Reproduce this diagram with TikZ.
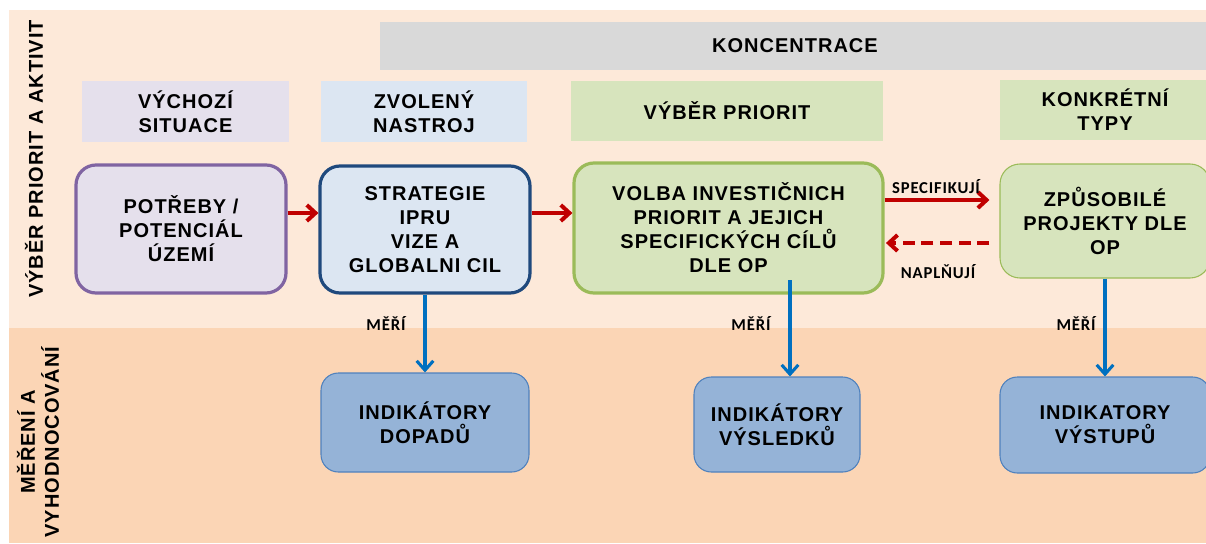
\documentclass[tikz,border=0pt]{standalone}
\usepackage{fontspec}
\setmainfont{Liberation Sans}
\newfontfamily\boxfont[LetterSpace=5]{Liberation Sans}
\newfontfamily\smallfont[LetterSpace=5]{Carlito}
\usetikzlibrary{arrows.meta}
\definecolor{bgup}{HTML}{FDE9D9}
\definecolor{bglow}{HTML}{FBD5B5}
\definecolor{greybar}{HTML}{D9D9D9}
\definecolor{lavfill}{HTML}{E5E0EC}
\definecolor{bluefill}{HTML}{DCE6F2}
\definecolor{greenfill}{HTML}{D7E4BD}
\definecolor{purpline}{HTML}{8064A2}
\definecolor{navyline}{HTML}{1F497D}
\definecolor{greenline}{HTML}{9BBB59}
\definecolor{indfill}{HTML}{95B3D7}
\definecolor{indline}{HTML}{4F81BD}
\definecolor{arrred}{HTML}{C00000}
\definecolor{arrblue}{HTML}{0070C0}
\begin{document}
\begin{tikzpicture}[x=0.75pt,y=-0.75pt,
  tbox/.style={align=center, inner sep=0pt, text=black,
    font=\boxfont\bfseries\fontsize{15}{18}\selectfont},
  header/.style={tbox, rectangle},
  mainbox/.style={tbox, rounded corners=15pt, line width=2.4pt},
  indbox/.style={tbox, rounded corners=13pt, draw=indline, fill=indfill, line width=0.8pt},
  lbl/.style={inner sep=0pt, text=black, font=\smallfont\bfseries\fontsize{12.5}{14}\selectfont},
  redarrow/.style={draw=arrred, line width=3pt, -{Straight Barb[length=6.5pt,width=12pt]}},
  reddash/.style={redarrow, dash pattern=on 9pt off 5pt},
  bluearrow/.style={draw=arrblue, line width=2.3pt, -{Straight Barb[length=7pt,width=12.5pt]}}
]
\clip (0,0) rectangle (1206,543);
\fill[white] (0,0) rectangle (1206,543);
\fill[bgup] (9,10) rectangle (1206,328);
\fill[bglow] (9,328) rectangle (1206,543);

% side labels
\node[tbox, rotate=90] (side1) at (34,159) {VÝBĚR PRIORIT A AKTIVIT};
\node[tbox, rotate=90] (side2) at (38,442) {MĚŘENÍ A\\VYHODNOCOVÁNÍ};

% concentration bar
\node[header, fill=greybar, minimum width=622.5pt, minimum height=36pt] (konc) at (795,46) {KONCENTRACE};

% headers
\node[header, fill=lavfill, minimum width=155.25pt, minimum height=45.75pt] (hvych) at (185.5,111.5) {VÝCHOZÍ\\SITUACE};
\node[header, fill=bluefill, minimum width=154.5pt, minimum height=45.75pt] (hzvol) at (424,111.5) {ZVOLENÝ\\NASTROJ};
\node[header, fill=greenfill, minimum width=234pt, minimum height=45pt] (hvyb) at (727,111) {VÝBĚR PRIORIT};
\node[header, fill=greenfill, minimum width=157.5pt, minimum height=45pt] (hkonk) at (1105,110) {KONKRÉTNÍ\\TYPY};

% main boxes
\node[mainbox, draw=purpline, fill=lavfill, minimum width=157.5pt, minimum height=96pt] (potreby) at (181,229) {POTŘEBY /\\POTENCIÁL\\ÚZEMÍ};
\node[mainbox, draw=navyline, fill=bluefill, minimum width=157.5pt, minimum height=95.25pt] (strat) at (425,229.5) {STRATEGIE\\IPRU\\VIZE A\\GLOBALNI CIL};
\node[mainbox, draw=greenline, fill=greenfill, minimum width=231.75pt, minimum height=97.5pt] (volba) at (728.5,228) {VOLBA INVESTIČNICH\\PRIORIT A JEJICH\\SPECIFICKÝCH CÍLŮ\\DLE OP};
\node[mainbox, draw=greenline, fill=greenfill, line width=0.8pt, minimum width=157.5pt, minimum height=85.5pt] (zpus) at (1105,221) {ZPŮSOBILÉ\\PROJEKTY DLE\\OP};

% indicator boxes
\node[indbox, minimum width=156pt, minimum height=74.25pt] (dopadu) at (425,422.5) {INDIKÁTORY\\DOPADŮ};
\node[indbox, minimum width=124.5pt, minimum height=71.25pt] (vysledku) at (777,424.5) {INDIKÁTORY\\VÝSLEDKŮ};
\node[indbox, minimum width=157.5pt, minimum height=72pt] (vystupu) at (1105,425) {INDIKATORY\\VÝSTUPŮ};

% red connectors
\coordinate (ra) at (0,213);
\coordinate (rs) at (0,200);
\coordinate (rn) at (0,243);
\draw[redarrow] (potreby.east |- ra) -- (strat.west |- ra);
\draw[redarrow] (strat.east |- ra) -- (volba.west |- ra);
\draw[redarrow] (volba.east |- rs) -- ([xshift=-7.5pt]zpus.west |- rs);
\draw[reddash] ([xshift=-7.5pt]zpus.west |- rn) -- ([xshift=1pt]volba.east |- rn);
\node[lbl] (spec) at (936,187) {SPECIFIKUJÍ};
\node[lbl] (napl) at (938,272) {NAPLŇUJÍ};

% blue connectors
\coordinate (m2) at (790,280);
\draw[bluearrow] (strat.south) -- (dopadu.north);
\draw[bluearrow] (m2) -- (vysledku.north -| m2);
\draw[bluearrow] (zpus.south) -- (vystupu.north);
\node[lbl] (meri1) at (386,323) {MĚŘÍ};
\node[lbl] (meri2) at (751,323) {MĚŘÍ};
\node[lbl] (meri3) at (1076,323) {MĚŘÍ};
\end{tikzpicture}
\end{document}
